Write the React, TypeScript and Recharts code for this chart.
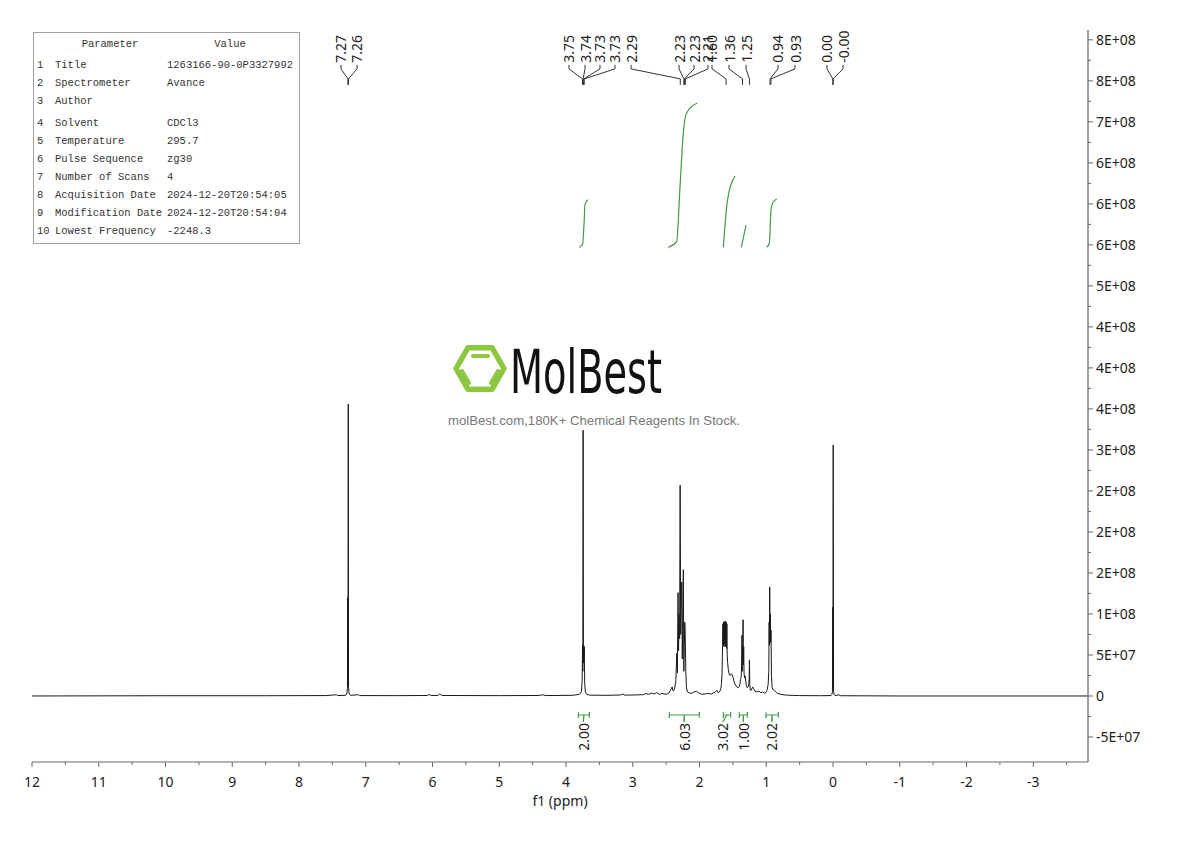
import React from "react";
import { LineChart, Line, XAxis, YAxis, LabelList } from "recharts";

// 1H spectrum trace: [ppm, intensity in millions]
const spectrum: [number, number][] = [
  [12, 0], [10, 0.3], [8.5, 0.3], [7.6, 0.5], [7.44, 1.5], [7.42, 0.5],
  [7.3, 0.8], [7.285, 2.5], [7.274, 9], [7.27, 120], [7.266, 12], [7.262, 356],
  [7.258, 10], [7.248, 2.5], [7.23, 0.8], [7.11, 1.5], [7.09, 0.5], [6.5, 0.4],
  [6.08, 0.6], [6.05, 1.8], [6.02, 0.6], [5.92, 0.6], [5.89, 2.5], [5.86, 0.6],
  [5.0, 0.4], [4.4, 0.6], [4.35, 1.5], [4.3, 0.5], [3.9, 0.8], [3.8, 2],
  [3.77, 5], [3.758, 18], [3.752, 62], [3.748, 30], [3.744, 324], [3.739, 40],
  [3.735, 62], [3.73, 48], [3.726, 60], [3.72, 15], [3.71, 5], [3.69, 2],
  [3.65, 1], [3.4, 0.8], [3.18, 1.2], [3.15, 2.5], [3.12, 1], [2.85, 1.5],
  [2.8, 3], [2.76, 2], [2.72, 3.5], [2.68, 2.5], [2.64, 4], [2.6, 2],
  [2.56, 3], [2.5, 2], [2.46, 3.5], [2.43, 8], [2.41, 11], [2.395, 6],
  [2.375, 8], [2.355, 18], [2.34, 52], [2.332, 28], [2.322, 126], [2.314, 55],
  [2.306, 100], [2.298, 70], [2.29, 257], [2.282, 75], [2.274, 118], [2.266, 139],
  [2.258, 45], [2.25, 100], [2.242, 154], [2.235, 30], [2.228, 60], [2.22, 90],
  [2.212, 68], [2.205, 30], [2.195, 10], [2.18, 5], [2.14, 3], [2.1, 4],
  [2.05, 6], [2.0, 3], [1.95, 2], [1.88, 3], [1.82, 2.5], [1.76, 5],
  [1.74, 7], [1.72, 4], [1.7, 5], [1.68, 9], [1.672, 14], [1.662, 28],
  [1.655, 60], [1.65, 88], [1.645, 62], [1.64, 90], [1.635, 60], [1.63, 91],
  [1.625, 64], [1.62, 89], [1.615, 60], [1.61, 91], [1.605, 62], [1.6, 90],
  [1.595, 58], [1.59, 88], [1.585, 50], [1.578, 40], [1.568, 32], [1.555, 26],
  [1.54, 25], [1.525, 27], [1.51, 26], [1.495, 22], [1.48, 17], [1.46, 13],
  [1.44, 11], [1.42, 10], [1.4, 12], [1.385, 20], [1.375, 24], [1.368, 40],
  [1.364, 74], [1.36, 30], [1.356, 55], [1.352, 62], [1.347, 93], [1.343, 38],
  [1.338, 60], [1.333, 28], [1.325, 22], [1.315, 24], [1.3, 13], [1.285, 10],
  [1.265, 12], [1.256, 20], [1.252, 44], [1.247, 14], [1.24, 7], [1.225, 7],
  [1.205, 11], [1.19, 9], [1.17, 6], [1.14, 5], [1.11, 6], [1.08, 4],
  [1.05, 5], [1.02, 3], [1.0, 5], [0.985, 8], [0.972, 14], [0.962, 30],
  [0.957, 90], [0.953, 62], [0.948, 133], [0.943, 70], [0.938, 100], [0.934, 65],
  [0.929, 80], [0.922, 25], [0.912, 10], [0.9, 8], [0.88, 7], [0.86, 5],
  [0.83, 3], [0.78, 2], [0.7, 1], [0.5, 0.5], [0.2, 0.3], [0.03, 0.5],
  [0.016, 2], [0.008, 6], [0.004, 108], [0.001, 12], [-0.003, 306], [-0.008, 6],
  [-0.016, 2], [-0.03, 0.5], [-0.09, 1.5], [-0.11, 0.3], [-1, 0], [-3.82, 0],
];

// peak picking labels
const peakLabels = ["7.27", "7.26", "3.75", "3.74", "3.73", "3.73", "2.29", "2.23", "2.23", "2.21", "1.60", "1.36", "1.25", "0.94", "0.93", "0.00", "-0.00"];
const peakPpm = [7.268, 7.259, 3.752, 3.744, 3.735, 3.728, 2.288, 2.234, 2.226, 2.212, 1.602, 1.356, 1.252, 0.944, 0.93, 0.003, -0.003];
const peakLabelPpm = [7.371, 7.131, 3.955, 3.715, 3.491, 3.266, 3.026, 2.307, 2.082, 1.873, 1.813, 1.558, 1.303, 0.824, 0.569, 0.09, -0.15];

// integrals
const integralLabels = ["2.00", "6.03", "3.02", "1.00", "2.02"];
const integralFrom = [3.815, 2.452, 1.643, 1.404, 1.004];
const integralTo = [3.65, 2.003, 1.533, 1.284, 0.819];
const integralLabelPpm = [3.74, 2.232, 1.652, 1.344, 0.918];
const integralCurves: [number, number][][] = [
  [[3.8, 547], [3.75, 551], [3.73, 576], [3.715, 599], [3.675, 605]],
  [[2.467, 547], [2.342, 554], [2.292, 621], [2.243, 686], [2.192, 711], [2.033, 723]],
  [[1.643, 547], [1.583, 603], [1.468, 634]],
  [[1.374, 547], [1.303, 574]],
  [[0.993, 547], [0.954, 552], [0.929, 593], [0.904, 601], [0.844, 606]],
];

const xTicks = [12, 11.5, 11, 10.5, 10, 9.5, 9, 8.5, 8, 7.5, 7, 6.5, 6, 5.5, 5, 4.5, 4, 3.5, 3, 2.5, 2, 1.5, 1, 0.5, 0, -0.5, -1, -1.5, -2, -2.5, -3, -3.5];
const yMajorTicks = [-5e7, 0, 5e7, 1e8, 1.5e8, 2e8, 2.5e8, 3e8, 3.5e8, 4e8, 4.5e8, 5e8, 5.5e8, 6e8, 6.5e8, 7e8, 7.5e8, 8e8];
const yTickLabels = ["-5E+07", "0", "5E+07", "1E+08", "2E+08", "2E+08", "2E+08", "3E+08", "4E+08", "4E+08", "4E+08", "5E+08", "6E+08", "6E+08", "6E+08", "7E+08", "8E+08", "8E+08"];
const yMinorTicks = [-2.5e7, 2.5e7, 7.5e7, 1.25e8, 1.75e8, 2.25e8, 2.75e8, 3.25e8, 3.75e8, 4.25e8, 4.75e8, 5.25e8, 5.75e8, 6.25e8, 6.75e8, 7.25e8, 7.75e8];

const tableParams = ["Title", "Spectrometer", "Author", "Solvent", "Temperature", "Pulse Sequence", "Number of Scans", "Acquisition Date", "Modification Date", "Lowest Frequency"];
const tableValues = ["1263166-90-0P3327992", "Avance", "", "CDCl3", "295.7", "zg30", "4", "2024-12-20T20:54:05", "2024-12-20T20:54:04", "-2248.3"];

const FONT = "'Noto Sans', 'Open Sans', sans-serif";
const GREEN = "#3f9b45";

const XTick = (props: any) => {
  const { x, y, payload } = props;
  const major = Number.isInteger(payload.value);
  return (
    <g>
      <line x1={x} y1={y} x2={x} y2={y + (major ? 5 : 3)} stroke="#666" />
      {major && (
        <text x={x} y={y + 25} textAnchor="middle" fontSize={14} fill="#222" fontFamily={FONT}>
          {payload.value}
        </text>
      )}
    </g>
  );
};

const YTick = (props: any) => {
  const { x, y, payload } = props;
  const idx = yMajorTicks.indexOf(payload.value);
  return (
    <g>
      <line x1={x} y1={y} x2={x + (idx >= 0 ? 5 : 3)} y2={y} stroke="#666" />
      {idx >= 0 && (
        <text x={x + 8} y={y + 5} fontSize={14} fill="#222" fontFamily={FONT}>
          {yTickLabels[idx]}
        </text>
      )}
    </g>
  );
};

const PeakText = (p: any) =>
  p.value ? (
    <text x={p.x} y={p.y - 2} transform={`rotate(-90 ${p.x} ${p.y - 2})`} dominantBaseline="central" fontSize={14} fill="#222" fontFamily={FONT}>
      {p.value}
    </text>
  ) : null;

const IntText = (p: any) =>
  p.value ? (
    <text x={p.x} y={p.y + 1} transform={`rotate(-90 ${p.x} ${p.y + 1})`} textAnchor="end" dominantBaseline="central" fontSize={14} fill="#222" fontFamily={FONT}>
      {p.value}
    </text>
  ) : null;

export default function App() {
  const specData = spectrum.map(([ppm, v]) => ({ ppm, v: v * 1e6 }));

  const connectors = peakLabels.map((t, i) => [
    { ppm: peakLabelPpm[i], v: 7.695e8, text: t },
    { ppm: peakLabelPpm[i], v: 7.646e8 },
    { ppm: peakPpm[i], v: 7.524e8 },
    { ppm: peakPpm[i], v: 7.451e8 },
  ]);

  const y0 = -2.317e7, up = -1.95e7, dn = -2.68e7, yLab = -3.17e7;
  const brackets = integralLabels.map((t, i) => {
    const a = integralFrom[i], b = integralTo[i], c = (a + b) / 2;
    return [
      { ppm: a, v: up }, { ppm: a, v: dn }, { ppm: a, v: y0 }, { ppm: c, v: y0 },
      { ppm: integralLabelPpm[i], v: yLab, text: t }, { ppm: c, v: y0 },
      { ppm: b, v: y0 }, { ppm: b, v: up }, { ppm: b, v: dn },
    ];
  });

  const curves = integralCurves.map((c) => c.map(([ppm, v]) => ({ ppm, v: v * 1e6 })));

  return (
    <div style={{ position: "absolute", left: 0, top: 0, width: 1190, height: 841, background: "#fff", fontFamily: FONT }}>
      <LineChart width={1190} height={841} margin={{ top: 30, right: 0, left: 32, bottom: 34 }}>
        <XAxis
          dataKey="ppm"
          type="number"
          domain={[-3.82, 12]}
          reversed
          allowDataOverflow
          ticks={xTicks}
          interval={0}
          tick={<XTick />}
          tickLine={false}
          tickSize={0}
          tickMargin={0}
          height={45}
          axisLine={{ stroke: "#666" }}
          label={{ value: "f1 (ppm)", position: "insideBottom", offset: 1, fontSize: 14, fill: "#222" }}
        />
        <YAxis
          orientation="right"
          type="number"
          width={102}
          domain={[-8.05e7, 8.12e8]}
          allowDataOverflow
          ticks={[...yMajorTicks, ...yMinorTicks].sort((a, b) => a - b)}
          interval={0}
          tick={<YTick />}
          tickLine={false}
          tickSize={0}
          tickMargin={0}
          axisLine={{ stroke: "#808080", strokeWidth: 1.5 }}
        />
        <Line data={specData} dataKey="v" type="linear" stroke="#1a1a1a" strokeWidth={1} dot={false} activeDot={false} isAnimationActive={false} />
        {curves.map((d, i) => (
          <Line key={"int" + i} data={d} dataKey="v" type="monotone" stroke={GREEN} strokeWidth={1.2} dot={false} activeDot={false} isAnimationActive={false} />
        ))}
        {connectors.map((d, i) => (
          <Line key={"pk" + i} data={d} dataKey="v" type="linear" stroke="#333" strokeWidth={1} dot={false} activeDot={false} isAnimationActive={false}>
            <LabelList dataKey="text" content={PeakText} />
          </Line>
        ))}
        {brackets.map((d, i) => (
          <Line key={"br" + i} data={d} dataKey="v" type="linear" stroke={GREEN} strokeWidth={1} dot={false} activeDot={false} isAnimationActive={false}>
            <LabelList dataKey="text" content={IntText} />
          </Line>
        ))}
      </LineChart>

      <svg width={1190} height={841} style={{ position: "absolute", left: 0, top: 0, pointerEvents: "none" }}>
        {/* parameter table */}
        <rect x={33.5} y={32.5} width={266} height={211} fill="#fff" stroke="#a0a0a0" />
        <g fontFamily="'Liberation Mono', 'DejaVu Sans Mono', monospace" fontSize={10.5} fill="#333">
          <text x={110} y={44} textAnchor="middle" dominantBaseline="central">Parameter</text>
          <text x={230} y={44} textAnchor="middle" dominantBaseline="central">Value</text>
          {tableParams.map((p, i) => {
            const y = 65 + i * 18 + (i >= 3 ? 4 : 0);
            return (
              <g key={p}>
                <text x={37} y={y} dominantBaseline="central">{i + 1}</text>
                <text x={55} y={y} dominantBaseline="central">{p}</text>
                <text x={167} y={y} dominantBaseline="central">{tableValues[i]}</text>
              </g>
            );
          })}
        </g>

        {/* watermark */}
        <polygon points="504,368.5 492,347.7 468,347.7 456,368.5 468,389.3 492,389.3" fill="none" stroke="#8dc63f" strokeWidth={5.5} strokeLinejoin="round" />
        <g stroke="#8dc63f" strokeWidth={4} strokeLinecap="round">
          <line x1={473} y1={356} x2={488} y2={356} />
          <line x1={462} y1={371} x2={469} y2={383} />
          <line x1={498} y1={371} x2={491} y2={383} />
        </g>
        <text x={510} y={393} fontSize={60} fill="#111" fontFamily="'DejaVu Sans Condensed', 'DejaVu Sans', sans-serif" textLength={152} lengthAdjust="spacingAndGlyphs">
          MolBest
        </text>
        <text x={594} y={425} fontSize={13} fill="#777" textAnchor="middle" fontFamily="'Liberation Sans', Arial, sans-serif" textLength={292} lengthAdjust="spacingAndGlyphs">
          molBest.com,180K+ Chemical Reagents In Stock.
        </text>
      </svg>
    </div>
  );
}
